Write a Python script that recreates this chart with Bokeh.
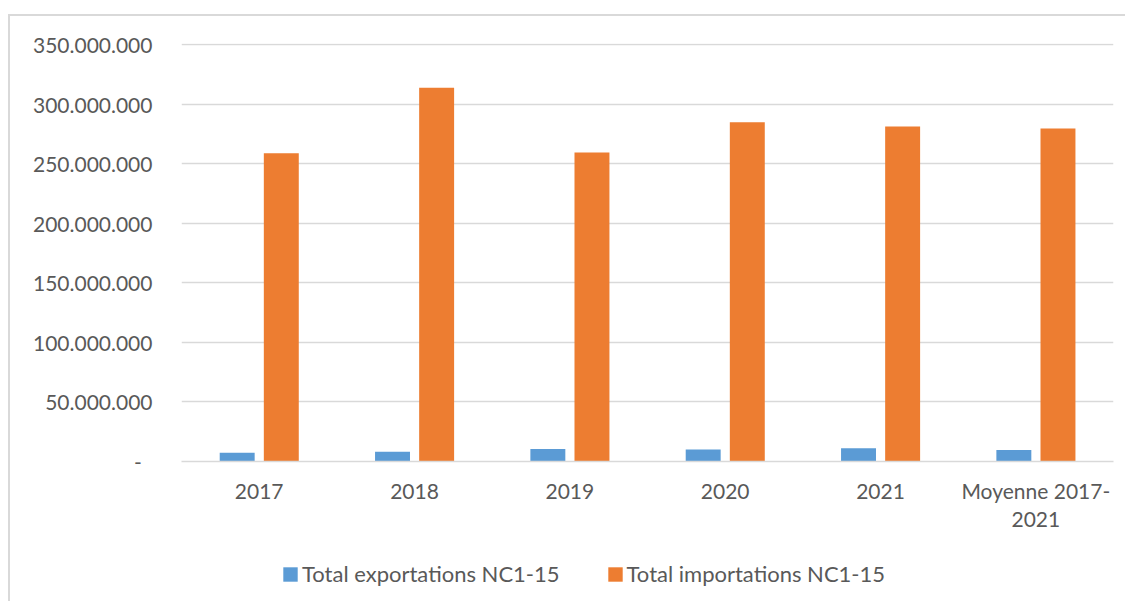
from bokeh.plotting import figure
from bokeh.layouts import column
from bokeh.models import (ColumnDataSource, Range1d, FixedTicker, LinearAxis,
                          CustomJSTickFormatter, Legend, LegendItem)
from bokeh.transform import dodge
from bokeh.embed import file_html
from bokeh.resources import INLINE

# ---- data ----
categories = ["2017", "2018", "2019", "2020", "2021", "Moyenne 2017-2021"]
exportations = [7.3e6, 8.1e6, 10.4e6, 10.1e6, 11.2e6, 9.6e6]
importations = [258.8e6, 313.7e6, 259.4e6, 284.8e6, 281.2e6, 279.5e6]
y_ticks = [0, 50e6, 100e6, 150e6, 200e6, 250e6, 300e6, 350e6]
series_names = ["Total exportations NC1-15", "Total importations NC1-15"]
# category labels as wrapped in the reference (two lines)
label_line1 = ["2017", "2018", "2019", "2020", "2021", "Moyenne 2017-"]
label_line2 = ["", "", "", "", "", "2021"]

BLUE = "#5B9BD5"
ORANGE = "#ED7D31"
TXT = "#595959"
GRID = "#D9D9D9"
FONT = "Lato"

x_pos = [i + 0.5 for i in range(len(categories))]
src = ColumnDataSource(dict(x=x_pos, cat=categories, exp=exportations, imp=importations))

W = 1115
p = figure(x_range=Range1d(0, len(categories)),
           y_range=Range1d(0, 350.84e6),
           width=W, height=525, output_backend="svg", toolbar_location=None,
           min_border_left=171, min_border_right=12, min_border_top=27,
           min_border_bottom=80)
p.outline_line_color = None

r1 = p.vbar(x=dodge("x", -0.1415), top="exp", width=0.225,
            source=src, fill_color=BLUE, line_color=None)
r2 = p.vbar(x=dodge("x", 0.1425), top="imp", width=0.225,
            source=src, fill_color=ORANGE, line_color=None)

# y axis
p.yaxis.ticker = FixedTicker(ticks=y_ticks)
p.yaxis.formatter = CustomJSTickFormatter(code="""
    if (tick == 0) { return "-\u00a0\u00a0"; }
    return Math.round(tick).toString().replace(/\\B(?=(\\d{3})+(?!\\d))/g, ".");
""")
p.yaxis.axis_line_color = None
p.yaxis.major_tick_line_color = None
p.yaxis.minor_tick_line_color = None
p.yaxis.major_label_standoff = 23
p.yaxis.major_label_text_font = FONT
p.yaxis.major_label_text_font_size = "21px"
p.yaxis.major_label_text_color = TXT

# x axis (first line of labels)
p.xaxis.ticker = FixedTicker(ticks=x_pos)
p.xaxis.formatter = CustomJSTickFormatter(args=dict(labels=label_line1),
                                          code="return labels[Math.floor(tick)];")
p.xaxis.axis_line_color = GRID
p.xaxis.axis_line_width = 1.5
p.xaxis.major_tick_line_color = None
p.xaxis.minor_tick_line_color = None
p.xaxis.major_label_standoff = 10
p.xaxis.major_label_text_font = FONT
p.xaxis.major_label_text_font_size = "21px"
p.xaxis.major_label_text_color = TXT

# second line of the wrapped category label
ax2 = LinearAxis(ticker=FixedTicker(ticks=x_pos),
                 formatter=CustomJSTickFormatter(args=dict(labels=label_line2),
                                                 code="return labels[Math.floor(tick)];"),
                 axis_line_color=None, major_tick_line_color=None,
                 minor_tick_line_color=None, major_label_standoff=0,
                 major_label_text_font=FONT, major_label_text_font_size="21px",
                 major_label_text_color=TXT)
p.add_layout(ax2, "below")

p.xgrid.grid_line_color = None
p.ygrid.grid_line_color = GRID
p.ygrid.grid_line_width = 1.5

# legend strip (separate small figure under the chart; proxy renderers hidden)
p2 = figure(x_range=Range1d(0, 1), y_range=Range1d(0, 1), width=W, height=60,
            output_backend="svg", toolbar_location=None,
            x_axis_location=None, y_axis_location=None,
            min_border=0, min_border_left=0, min_border_right=0,
            min_border_top=0, min_border_bottom=0)
p2.outline_line_color = None
p2.grid.visible = False
l1 = p2.vbar(x="x", top="exp", width=0.225, source=src, fill_color=BLUE, line_color=None)
l2 = p2.vbar(x="x", top="imp", width=0.225, source=src, fill_color=ORANGE, line_color=None)
l1.visible = False
l2.visible = False

legend = Legend(items=[LegendItem(label=series_names[0], renderers=[l1]),
                       LegendItem(label=series_names[1], renderers=[l2])],
                location=(100, 14), orientation="horizontal",
                glyph_width=18, glyph_height=18, label_standoff=3, spacing=46,
                padding=0, margin=0, border_line_color=None,
                background_fill_alpha=0, click_policy="none",
                label_text_font=FONT, label_text_font_size="22px",
                label_text_color=TXT, label_height=24)
p2.add_layout(legend, "center")

layout = column(p, p2, spacing=0,
                styles={"margin-left": "8px", "margin-top": "14px",
                        "border-left": "2px solid #D9D9D9",
                        "border-top": "2px solid #D9D9D9"})

open("out.html", "w").write(file_html(layout, INLINE))
